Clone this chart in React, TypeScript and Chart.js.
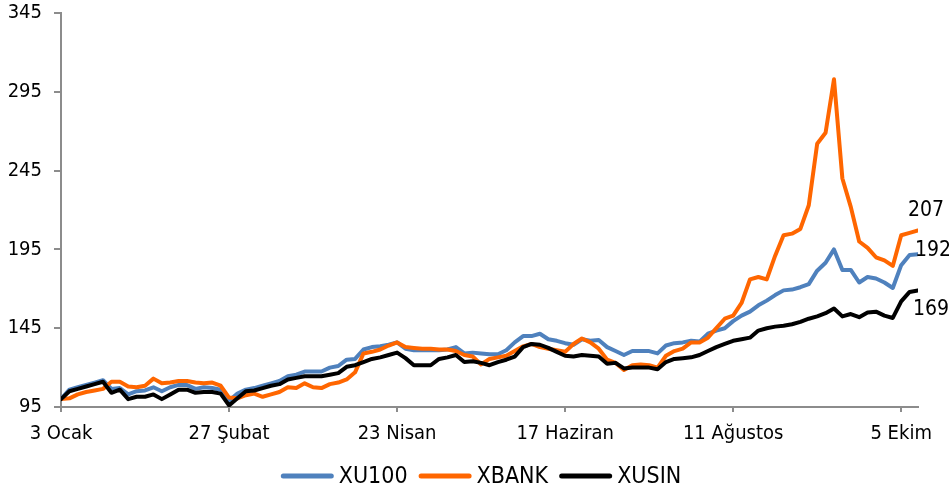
import React, { useEffect, useRef } from "react";
import { Chart, registerables } from "chart.js";

Chart.register(...registerables);

const tickLabels = ["3 Ocak", "27 Şubat", "23 Nisan", "17 Haziran", "11 Ağustos", "5 Ekim"];

const xu100 = [
  100, 106, 107.5, 109, 110.5, 112, 106.5, 107, 103, 105,
  105.5, 107.5, 105, 107.5, 109, 109, 106.5, 107.5, 107, 106,
  99, 103.5, 106, 107, 108.5, 110, 111.5, 114.5, 115.5, 117.5,
  117.5, 117.5, 120, 121, 125, 125.5, 131.5, 133, 133.5, 134.5,
  136, 132, 131, 131, 131, 131, 131.5, 133, 129, 129.5,
  129, 128.5, 128.5, 131, 136, 140, 140, 141.5, 138, 137,
  135.5, 134.5, 138, 137, 137.5, 133, 130.5, 128, 130.5, 130.5,
  130.5, 129, 134, 135.5, 136, 137, 136.5, 141.5, 143.5, 145,
  149.5, 153, 155.5, 159.5, 162.5, 166, 169, 169.5, 171, 173,
  181.5, 186.5, 195, 182, 182, 174, 177.5, 176.5, 174, 170.5,
  185, 191.5, 192,
];

const xbank = [
  100, 100.5, 103, 104.5, 105.5, 106.5, 111, 111, 108, 107.5,
  108.5, 113, 110, 110.5, 111.5, 111.5, 110.5, 110, 110.5, 108.5,
  101, 100.5, 102.5, 103.5, 101.5, 103, 104.5, 107.5, 107, 110,
  107.5, 107, 109.5, 110.5, 112.5, 117, 129, 130, 131.5, 134,
  136, 133, 132.5, 132, 132, 131.5, 131.5, 130.5, 128, 127,
  122, 125.5, 126.5, 127.5, 130.5, 133.5, 135, 133, 132, 131,
  130, 135, 138.5, 136, 132, 125, 123, 118.5, 121.5, 122,
  121.5, 120, 127.5, 130.5, 132, 136, 136, 139, 145, 151,
  153, 161, 176, 177.5, 176, 191, 204, 205, 208, 223,
  262, 269, 303, 240, 222, 200, 196, 190, 188, 184.5,
  204, 205.5, 207,
];

const xusin = [
  100, 105, 106.5, 108, 109.5, 111, 104, 106, 100, 101.5,
  101.5, 103, 100, 103, 106, 106, 104, 104.5, 104.5, 103.5,
  96, 100.5, 105, 105.5, 107, 108.5, 109.5, 112.5, 113.5, 114.5,
  114.5, 114.5, 115.5, 116.5, 120.5, 121.5, 123.5, 125.5, 126.5, 128,
  129.5, 126, 121.5, 121.5, 121.5, 125.5, 126.5, 128, 123.5, 124,
  123, 121.5, 123.5, 125, 127, 133, 135, 134.5, 132.5, 130,
  127.5, 127, 128, 127.5, 127, 122.5, 123, 119.5, 120, 120,
  120, 119, 123.5, 125.5, 126, 126.5, 128, 130.5, 133, 135,
  137, 138, 139, 143.5, 145, 146, 146.5, 147.5, 149, 151,
  152.5, 154.5, 157.5, 152.5, 154, 152, 155, 155.5, 153, 151.5,
  162, 168, 169,
];

const seriesNames = ["XU100", "XBANK", "XUSIN"];
const seriesColors = ["#4F81BD", "#FF6600", "#000000"];

const FONT = "'DejaVu Sans Condensed', 'DejaVu Sans', sans-serif";

export default function App() {
  const ref = useRef<HTMLCanvasElement | null>(null);

  useEffect(() => {
    const canvas = ref.current;
    if (!canvas) return;
    const positions = xu100.map((_, i) => i);
    const step = 20;

    const endLabelOffsets = [
      { dx: -3, dy: -3.5 },
      { dx: -10, dy: -19.5 },
      { dx: -5, dy: 19.5 },
    ];

    const overlay = {
      id: "overlay",
      afterDraw(chart: any) {
        const ctx = chart.ctx as CanvasRenderingContext2D;
        ctx.save();
        // end labels
        ctx.font = `21px ${FONT}`;
        ctx.fillStyle = "#000";
        ctx.textAlign = "left";
        ctx.textBaseline = "middle";
        chart.data.datasets.forEach((ds: any, di: number) => {
          const meta = chart.getDatasetMeta(di);
          const last = meta.data[meta.data.length - 1];
          const v = ds.data[ds.data.length - 1];
          const o = endLabelOffsets[di];
          ctx.fillText(String(Math.round(v)), last.x + o.dx, last.y + o.dy);
        });
        // legend
        ctx.font = `23px ${FONT}`;
        const lineW = 53;
        const gapText = 5;
        const gapItem = 11;
        const widths = seriesNames.map((n) => ctx.measureText(n).width);
        const total = widths.reduce((a, b) => a + b, 0) + seriesNames.length * (lineW + gapText) + (seriesNames.length - 1) * gapItem;
        let x = 481 - total / 2;
        const y = 476;
        seriesNames.forEach((n, i) => {
          ctx.strokeStyle = seriesColors[i];
          ctx.lineWidth = 5;
          ctx.lineCap = "round";
          ctx.beginPath();
          ctx.moveTo(x + 2.5, y);
          ctx.lineTo(x + lineW - 2.5, y);
          ctx.stroke();
          ctx.fillStyle = "#000";
          ctx.textBaseline = "middle";
          ctx.fillText(n, x + lineW + gapText, y + 1);
          x += lineW + gapText + widths[i] + gapItem;
        });
        ctx.restore();
      },
    };

    const datasets = [xu100, xbank, xusin].map((d, i) => ({
      label: seriesNames[i],
      data: d,
      borderColor: seriesColors[i],
      backgroundColor: seriesColors[i],
      borderWidth: 4,
      pointRadius: 0,
      tension: 0,
      borderJoinStyle: "round" as const,
      borderCapStyle: "round" as const,
      order: 3 - i,
    }));

    const chart = new Chart(canvas, {
      type: "line",
      data: { labels: positions, datasets },
      options: {
        animation: false,
        responsive: false,
        maintainAspectRatio: false,
        layout: { padding: { top: 13, right: 31, left: 0, bottom: 0 } },
        plugins: { legend: { display: false }, tooltip: { enabled: false } },
        scales: {
          x: {
            type: "linear",
            min: 0,
            max: positions.length - 1,
            afterFit(scale: any) {
              scale.height = 83;
              scale.paddingLeft = 0;
              scale.paddingRight = 0;
            },
            ticks: {
              stepSize: step,
              includeBounds: false,
              autoSkip: false,
              maxRotation: 0,
              padding: 10,
              color: "#000",
              font: { family: FONT, size: 20 },
              callback: (v: any) => {
                const n = Number(v);
                return n % step === 0 ? tickLabels[n / step] ?? "" : "";
              },
            },
            grid: { drawOnChartArea: false, drawTicks: true, tickLength: 5, color: "#8c8c8c", lineWidth: 2 },
            border: { display: true, color: "#8c8c8c", width: 2 },
          },
          y: {
            min: 95,
            max: 345,
            afterFit(scale: any) {
              scale.width = 61;
              scale.paddingTop = 0;
              scale.paddingBottom = 0;
            },
            ticks: {
              stepSize: 50,
              padding: 12,
              color: "#000",
              font: { family: FONT, size: 20 },
            },
            grid: { drawOnChartArea: false, drawTicks: true, tickLength: 7, color: "#8c8c8c", lineWidth: 2 },
            border: { display: true, color: "#8c8c8c", width: 2 },
          },
        },
      },
      plugins: [overlay],
    });
    return () => chart.destroy();
  }, []);

  return (
    <div style={{ position: "absolute", left: 0, top: 0, width: 949, height: 490, background: "#fff" }}>
      <canvas ref={ref} width={949} height={490} style={{ width: 949, height: 490 }} />
    </div>
  );
}
